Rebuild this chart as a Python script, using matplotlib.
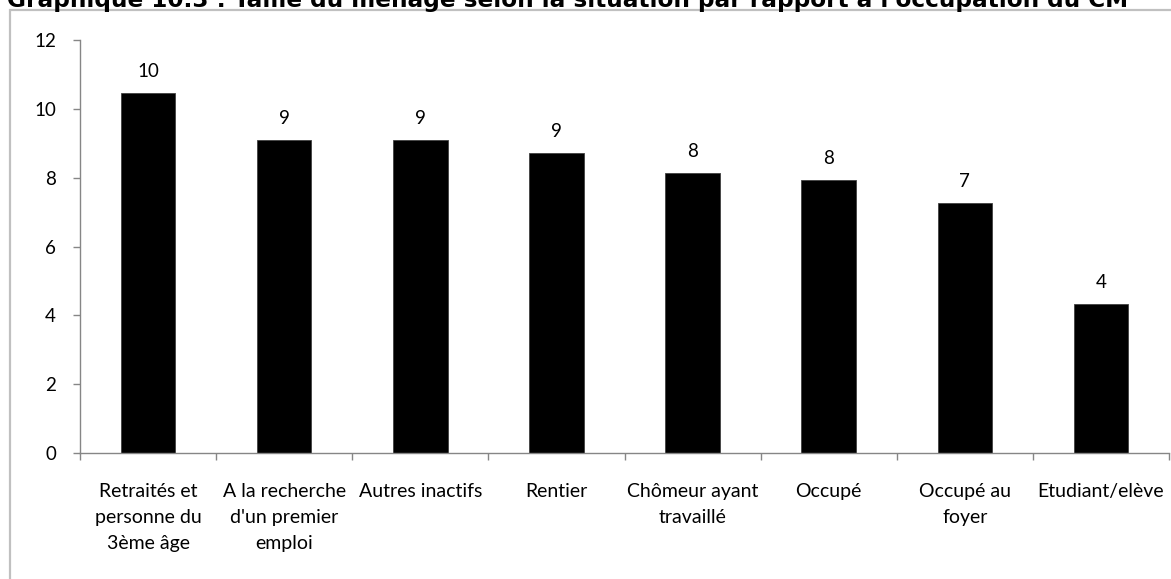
import matplotlib
matplotlib.use("Agg")
import matplotlib.pyplot as plt
from matplotlib.patches import Rectangle
import numpy as np

categories = [
    "Retraités et\npersonne du\n3ème âge",
    "A la recherche\nd'un premier\nemploi",
    "Autres inactifs",
    "Rentier",
    "Chômeur ayant\ntravaillé",
    "Occupé",
    "Occupé au\nfoyer",
    "Etudiant/elève",
]
values = [10.45, 9.10, 9.10, 8.71, 8.13, 7.94, 7.26, 4.33]
yticks = [0, 2, 4, 6, 8, 10, 12]
title = "Graphique 10.3 : Taille du ménage selon la situation par rapport à l'occupation du CM"

W, H = 1171, 579
fig = plt.figure(figsize=(W / 100, H / 100), dpi=100)
fig.patch.set_facecolor("white")

# outer chart frame (extends past right and bottom edges)
fig.patches.append(Rectangle((10 / W, -0.1), 1.2, 1 - 10 / H + 0.1,
                             transform=fig.transFigure, fill=False,
                             edgecolor="#c0c0c0", linewidth=1.6, zorder=0))

fig.text(7 / W, 1 - 7 / H, title, fontsize=16.7, fontweight="bold",
         family="DejaVu Sans", va="baseline", ha="left", color="black")

ax = fig.add_axes([80 / W, (H - 453) / H, (1169 - 80) / W, (453 - 40) / H])
x = np.arange(len(categories))
bars = ax.bar(x, values, width=0.4, color="black", edgecolor="#404040", linewidth=0.6)

ax.set_xlim(-0.5, len(categories) - 0.5)
ax.set_ylim(0, 12)
ax.set_yticks(yticks)
ax.set_yticklabels([str(t) for t in yticks])
ax.set_xticks(x)
ax.set_xticklabels(categories, linespacing=1.65)
ax.set_xticks(np.arange(len(categories) + 1) - 0.5, minor=True)

fam = ["Lato", "DejaVu Sans"]
for lab in ax.get_xticklabels():
    lab.set_fontfamily(fam)
    lab.set_fontsize(14)
for lab in ax.get_yticklabels():
    lab.set_fontfamily(fam)
    lab.set_fontsize(13.5)

ax.tick_params(axis="x", which="major", length=0, pad=21.5)
ax.tick_params(axis="x", which="minor", length=5.3, width=1, color="#868686", direction="out")
ax.tick_params(axis="y", which="major", length=5.3, width=1, color="#868686", direction="out", pad=12)

for s in ["top", "right"]:
    ax.spines[s].set_visible(False)
for s in ["left", "bottom"]:
    ax.spines[s].set_color("#868686")
    ax.spines[s].set_linewidth(1.0)

for xi, v in zip(x, values):
    ax.annotate(f"{v:.0f}", xy=(xi, v), xytext=(0, 11.5), textcoords="offset points",
                ha="center", va="baseline", family=fam, size=13.5, color="black")

fig.savefig("out.png", dpi=100)
